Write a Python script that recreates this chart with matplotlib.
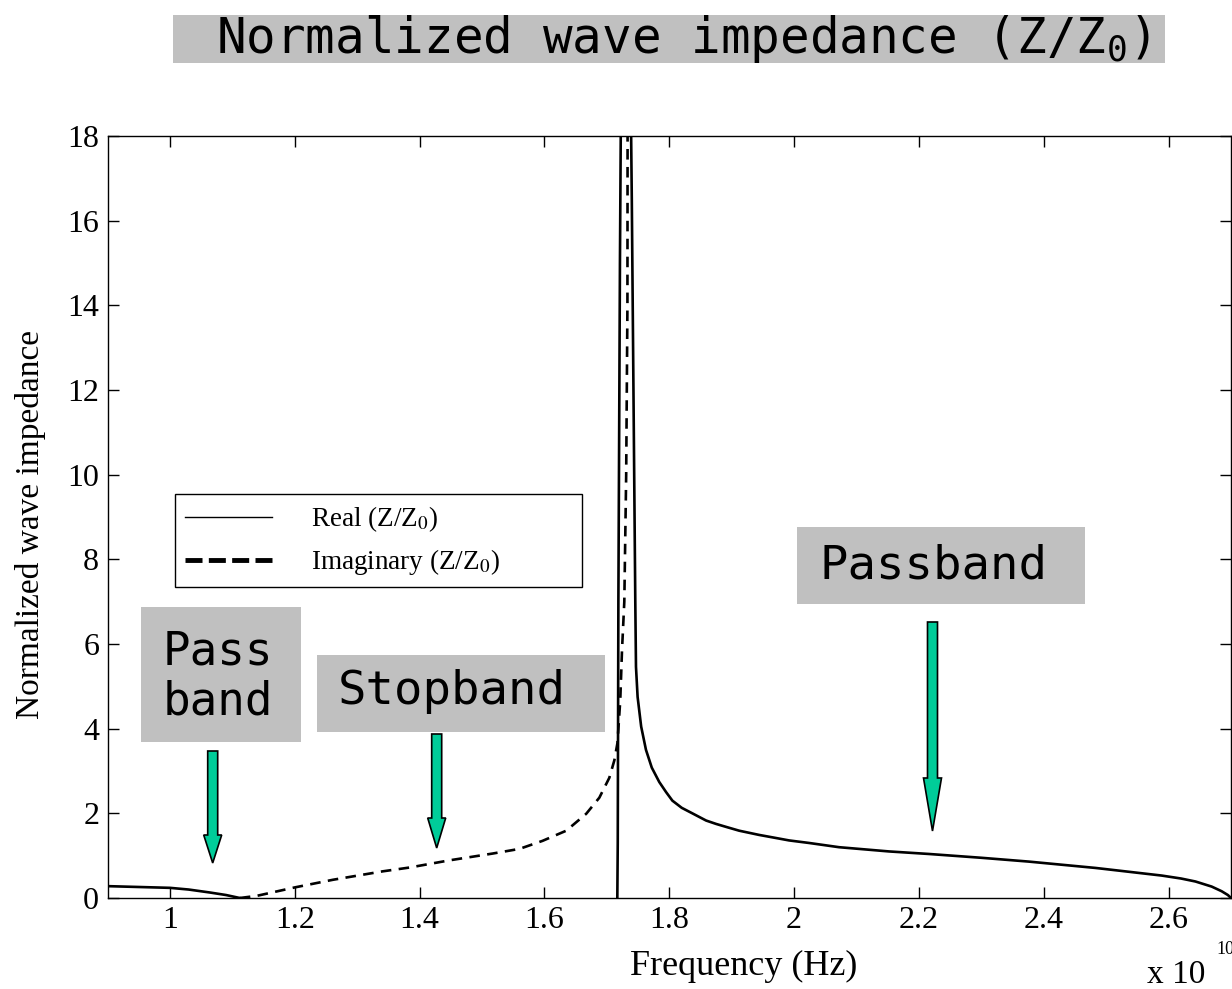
import matplotlib
matplotlib.use("Agg")
import matplotlib.pyplot as plt
from matplotlib.patches import Rectangle, Polygon
from matplotlib.lines import Line2D

nan = float("nan")

# ---------------- data (frequency in units of 1e10 Hz) ----------------
f_real = [0.90, 0.95, 1.00, 1.03, 1.064, 1.09, 1.112, 1.114, 1.7168,
          1.7175, 1.7185, 1.721, 1.724, 1.728, 1.734, 1.740, 1.7456, 1.7467,
          1.7493, 1.755, 1.7627, 1.772, 1.784, 1.795, 1.805, 1.82, 1.837,
          1.859, 1.875, 1.891, 1.912, 1.944, 1.97, 1.992, 2.024, 2.072,
          2.152, 2.216, 2.30, 2.376, 2.483, 2.589, 2.62, 2.643, 2.669, 2.685,
          2.695, 2.70]
real_z = [0.28, 0.26, 0.24, 0.20, 0.13, 0.07, 0.0, nan, 0.0,
          1.3, 7.0, 15.0, 22.0, 30.0, 25.0, 16.5, 7.0, 5.46,
          4.75, 4.05, 3.5, 3.08, 2.74, 2.50, 2.30, 2.13, 2.0,
          1.83, 1.75, 1.68, 1.59, 1.49, 1.42, 1.36, 1.30, 1.20,
          1.10, 1.04, 0.95, 0.86, 0.71, 0.53, 0.46, 0.39, 0.27, 0.16,
          0.07, 0.0]

f_imag = [1.112, 1.139, 1.20, 1.261, 1.341, 1.384, 1.448, 1.517, 1.56,
          1.597, 1.635, 1.667, 1.688, 1.704, 1.712, 1.717, 1.7215, 1.7243,
          1.728, 1.731, 1.733, 1.734]
imag_z = [0.0, 0.05, 0.25, 0.43, 0.63, 0.72, 0.89, 1.05, 1.16,
          1.35, 1.59, 1.99, 2.37, 2.84, 3.25, 3.66, 4.67, 5.85,
          7.0, 10.0, 14.0, 30.0]

x_ticks = [1.0, 1.2, 1.4, 1.6, 1.8, 2.0, 2.2, 2.4, 2.6]
x_tick_labels = ["1", "1.2", "1.4", "1.6", "1.8", "2", "2.2", "2.4", "2.6"]
y_ticks = [0, 2, 4, 6, 8, 10, 12, 14, 16, 18]
y_tick_labels = ["0", "2", "4", "6", "8", "10", "12", "14", "16", "18"]

legend_labels = ["Real (Z/Z$_0$)", "Imaginary (Z/Z$_0$)"]
title_text = "Normalized wave impedance (Z/Z$_\\mathtt{0}$)"
band_labels = ["Pass\nband", "Stopband", "Passband"]

# ---------------- figure ----------------
W, H = 1232, 989
fig = plt.figure(figsize=(W / 100, H / 100), dpi=100)
fig.patch.set_facecolor("white")


def fx(px):
    return px / W


def fy(py):
    return 1 - py / H


SERIF = "Liberation Serif"
MONO = "DejaVu Sans Mono"
GRAY = "#C0C0C0"
GREEN = "#00CC99"

ax = fig.add_axes([fx(107.5), fy(898), fx(1231) - fx(107.5), fy(136) - fy(898)])
ax.plot(f_real, real_z, color="black", lw=1.9)
ax.plot(f_imag, imag_z, color="black", lw=1.9, linestyle=(0, (4, 2.8)))

ax.set_xlim(0.9, 2.7)
ax.set_ylim(0, 18)
ax.set_xticks(x_ticks)
ax.set_xticklabels(x_tick_labels)
ax.set_yticks(y_ticks)
ax.set_yticklabels(y_tick_labels)
ax.tick_params(direction="in", top=True, right=True, length=8, width=1,
               labelsize=23, pad=6)
for lbl in ax.get_xticklabels() + ax.get_yticklabels():
    lbl.set_fontfamily(SERIF)
for sp in ax.spines.values():
    sp.set_linewidth(1.0)

ax.set_xlabel("Frequency (Hz)", fontfamily=SERIF, fontsize=26)
ax.xaxis.set_label_coords((744 - 107.5) / 1123.5, (898 - 950) / 762)
ax.set_ylabel("Normalized wave impedance", fontfamily=SERIF, fontsize=24)
ax.yaxis.set_label_coords((46 - 107.5) / 1123.5, 0.49)

fig.text(fx(1147), fy(983), "x 10", fontfamily=SERIF, fontsize=24,
         ha="left", va="baseline")
fig.text(fx(1216), fy(954), "10", fontfamily=SERIF, fontsize=13,
         ha="left", va="baseline")

# legend
h_real = Line2D([], [], color="black", lw=1.0)
h_imag = Line2D([], [], color="black", lw=3.5, linestyle=(0, (3.5, 1.3)))
leg = ax.legend([h_real, h_imag], legend_labels, loc="upper left",
                bbox_to_anchor=(fx(175), fy(585), fx(582) - fx(175), fy(494) - fy(585)),
                bbox_transform=fig.transFigure, mode="expand", borderaxespad=0,
                fancybox=False, edgecolor="black", framealpha=1,
                prop={"family": SERIF, "size": 19.5}, handlelength=3.2,
                handletextpad=1.45, borderpad=0.38, labelspacing=0.48)
leg.get_frame().set_linewidth(1.0)
for t in leg.get_texts():
    t.set_math_fontfamily("stix")

# gray label boxes
boxes = [(173, 15, 1165, 63), (141, 607, 301, 742), (317, 655, 605, 732),
         (797, 527, 1085, 604)]
for (x0, y0, x1, y1) in boxes:
    fig.add_artist(Rectangle((fx(x0), fy(y1)), fx(x1) - fx(x0), fy(y0) - fy(y1),
                             transform=fig.transFigure, facecolor=GRAY,
                             edgecolor="none", zorder=5))

fig.text(fx(683), fy(39), title_text, fontfamily=MONO, fontsize=35.5,
         ha="center", va="center", math_fontfamily="dejavusans", zorder=6)
fig.text(fx(218), fy(677), band_labels[0], fontfamily=MONO, fontsize=33,
         ha="center", va="center", linespacing=1.12, zorder=6)
fig.text(fx(452), fy(692), band_labels[1], fontfamily=MONO, fontsize=34,
         ha="center", va="center", zorder=6)
fig.text(fx(933), fy(566), band_labels[2], fontfamily=MONO, fontsize=34,
         ha="center", va="center", zorder=6)

# green arrows (cx, top, head start, tip)
arrows = [(212.7, 751, 835, 863), (436.7, 734, 818, 848), (932.5, 622, 778, 831)]
for (cx, top, hs, tip) in arrows:
    sw, hw = 5, 9
    pts = [(cx - sw, top), (cx + sw, top), (cx + sw, hs), (cx + hw, hs),
           (cx, tip), (cx - hw, hs), (cx - sw, hs)]
    fig.add_artist(Polygon([(fx(a), fy(b)) for a, b in pts], closed=True,
                           transform=fig.transFigure, facecolor=GREEN,
                           edgecolor="black", lw=1.2, zorder=6))

fig.savefig("out.png", dpi=100)
